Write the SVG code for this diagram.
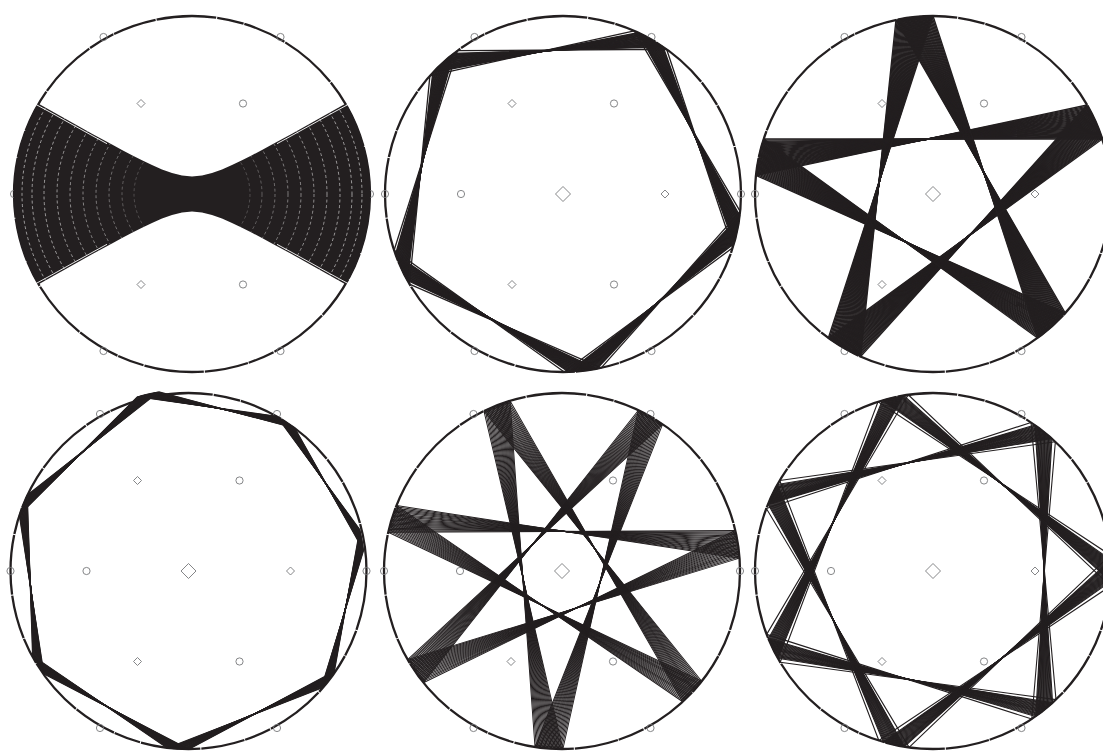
<svg xmlns="http://www.w3.org/2000/svg" xmlns:xlink="http://www.w3.org/1999/xlink" width="1103" height="752" viewBox="0 0 1103 752">
<style>
.ring{fill:none;stroke:#231f20;stroke-width:2.3;stroke-dasharray:60 1 27 0.8 44 1}
.mk{fill:none;stroke:#77787b;stroke-width:0.9}
.band{fill:none;stroke:#231f20;stroke-linejoin:round}
.b2{stroke-width:1.3}
.b3{stroke-width:1.4}
.b4{stroke-width:1.1}
.b5{stroke-width:1.0}
.b6{stroke-width:1.1}
.moire{fill:none;stroke:#fff;stroke-width:0.7;stroke-dasharray:3 2.6}
.edge{fill:none;stroke:#fff;stroke-width:0.9}
</style>
<defs>
<clipPath id="cc"><circle r="178.5"/></clipPath>
<path id="bowtie" d="M-180,-104 L-170,-99.7 L-160,-94.02 L-140,-82.7 L-120,-71.46 L-100,-60.33 L-80,-49.39 L-70,-44.04 L-60,-38.81 L-50,-33.76 L-40,-28.98 L-30,-24.62 L-20,-20.97 L-10,-18.43 L0,-17.5 L10,-18.43 L20,-20.97 L30,-24.62 L40,-28.98 L50,-33.76 L60,-38.81 L70,-44.04 L80,-49.39 L100,-60.33 L120,-71.46 L140,-82.7 L160,-94.02 L170,-99.7 L180,-104 L180,104 L170,99.7 L160,94.02 L140,82.7 L120,71.46 L100,60.33 L80,49.39 L70,44.04 L60,38.81 L50,33.76 L40,28.98 L30,24.62 L20,20.97 L10,18.43 L0,17.5 L-10,18.43 L-20,20.97 L-30,24.62 L-40,28.98 L-50,33.76 L-60,38.81 L-70,44.04 L-80,49.39 L-100,60.33 L-120,71.46 L-140,82.7 L-160,94.02 L-170,99.7 L-180,104 Z"/>
<clipPath id="btclip"><use xlink:href="#bowtie" href="#bowtie"/></clipPath>
<g id="marks" class="mk">
<circle cx="-88.5" cy="-157" r="3.6"/><circle cx="88.5" cy="-157" r="3.6"/>
<circle cx="-178" cy="0" r="3.6"/><circle cx="178" cy="0" r="3.6"/>
<circle cx="-88.5" cy="157" r="3.6"/><circle cx="88.5" cy="157" r="3.6"/>
<path d="M-51,-94.5 L-47,-90.5 L-51,-86.5 L-55,-90.5 Z"/>
<circle cx="51" cy="-90.5" r="3.6"/>
<circle cx="-102" cy="0" r="3.6"/>
<path d="M102,-4 L106,0 L102,4 L98,0 Z"/>
<path d="M-51,86.5 L-47,90.5 L-51,94.5 L-55,90.5 Z"/>
<circle cx="51" cy="90.5" r="3.6"/>
<path d="M0,-7.5 L7.5,0 L0,7.5 L-7.5,0 Z"/>
</g>
<polygon id="pent" points="0,-178 169.29,-55.01 104.63,144.01 -104.63,144.01 -169.29,-55.01"/>
<polygon id="pgram" points="0,-178 104.63,144.01 -169.29,-55.01 169.29,-55.01 -104.63,144.01"/>
<polygon id="hept" points="-40.5,-177 97.5,-149 173.5,-31 139.5,109 -10.5,178 -150.5,94 -165.5,-66"/>
<polygon id="h73" points="0,-178 77.23,160.37 -139.17,-110.98 173.54,39.61 -173.54,39.61 139.17,-110.98 -77.23,160.37"/>
<polygon id="h72" points="0,-178 173.54,39.61 -77.23,160.37 -139.17,-110.98 139.17,-110.98 77.23,160.37 -173.54,39.61"/>
</defs>
<rect width="1103" height="752" fill="#fff"/>

<g id="panel1" transform="translate(192,194)">
<circle class="ring" r="178"/>
<use href="#marks"/>
<use href="#bowtie" fill="#231f20" clip-path="url(#cc)"/>
<g clip-path="url(#btclip)">
<g clip-path="url(#cc)">
<circle class="moire" r="58" opacity="0.3"/>
<circle class="moire" r="70" opacity="0.4"/>
<circle class="moire" r="83" opacity="0.5"/>
<circle class="moire" r="96" opacity="0.6"/>
<circle class="moire" r="109" opacity="0.65"/>
<circle class="moire" r="122" opacity="0.7"/>
<circle class="moire" r="135" opacity="0.75"/>
<circle class="moire" r="148" opacity="0.8"/>
<circle class="moire" r="160" opacity="0.8"/>
<circle class="moire" r="170" opacity="0.8"/>
</g>
</g>
<polyline class="edge" points="-156,-89.5 -140,-80.8 -120,-69.6 -100,-58.5 -85,-50.3"/>
<polyline class="edge" points="156,-89.5 140,-80.8 120,-69.6 100,-58.5 85,-50.3"/>
<polyline class="edge" points="-156,89.5 -140,80.8 -120,69.6 -100,58.5 -85,50.3"/>
<polyline class="edge" points="156,89.5 140,80.8 120,69.6 100,58.5 85,50.3"/>
</g>

<g id="panel2" transform="translate(563,194)">
<circle class="ring" r="178"/>
<use href="#marks"/>
<g class="band b2">
<use href="#pent" transform="rotate(23.6)"/>
<use href="#pent" transform="rotate(25)"/><use href="#pent" transform="rotate(25.4)"/><use href="#pent" transform="rotate(25.8)"/><use href="#pent" transform="rotate(26.2)"/>
<use href="#pent" transform="rotate(26.6)"/><use href="#pent" transform="rotate(27)"/><use href="#pent" transform="rotate(27.4)"/><use href="#pent" transform="rotate(27.8)"/>
<use href="#pent" transform="rotate(28.2)"/><use href="#pent" transform="rotate(28.6)"/><use href="#pent" transform="rotate(29)"/><use href="#pent" transform="rotate(29.4)"/>
<use href="#pent" transform="rotate(29.8)"/><use href="#pent" transform="rotate(30.2)"/><use href="#pent" transform="rotate(30.6)"/><use href="#pent" transform="rotate(31)"/>
<use href="#pent" transform="rotate(31.4)"/><use href="#pent" transform="rotate(31.8)"/><use href="#pent" transform="rotate(32.2)"/><use href="#pent" transform="rotate(32.6)"/>
<use href="#pent" transform="rotate(33)"/><use href="#pent" transform="rotate(33.4)"/><use href="#pent" transform="rotate(33.8)"/><use href="#pent" transform="rotate(34.2)"/>
<use href="#pent" transform="rotate(35.6)"/>
</g>
</g>

<g id="panel3" transform="translate(933,194)">
<circle class="ring" r="178"/>
<use href="#marks"/>
<g class="band b3">
<use href="#pgram" transform="rotate(-12)"/><use href="#pgram" transform="rotate(-11.6)"/><use href="#pgram" transform="rotate(-11.2)"/><use href="#pgram" transform="rotate(-10.8)"/>
<use href="#pgram" transform="rotate(-10.4)"/><use href="#pgram" transform="rotate(-10)"/><use href="#pgram" transform="rotate(-9.6)"/><use href="#pgram" transform="rotate(-9.2)"/>
<use href="#pgram" transform="rotate(-8.8)"/><use href="#pgram" transform="rotate(-8.4)"/><use href="#pgram" transform="rotate(-8)"/><use href="#pgram" transform="rotate(-7.6)"/>
<use href="#pgram" transform="rotate(-7.2)"/><use href="#pgram" transform="rotate(-6.8)"/><use href="#pgram" transform="rotate(-6.4)"/><use href="#pgram" transform="rotate(-6)"/>
<use href="#pgram" transform="rotate(-5.6)"/><use href="#pgram" transform="rotate(-5.2)"/><use href="#pgram" transform="rotate(-4.8)"/><use href="#pgram" transform="rotate(-4.4)"/>
<use href="#pgram" transform="rotate(-4)"/><use href="#pgram" transform="rotate(-3.6)"/><use href="#pgram" transform="rotate(-3.2)"/><use href="#pgram" transform="rotate(-2.8)"/>
<use href="#pgram" transform="rotate(-2.4)"/><use href="#pgram" transform="rotate(-2)"/><use href="#pgram" transform="rotate(-1.6)"/><use href="#pgram" transform="rotate(-1.2)"/>
<use href="#pgram" transform="rotate(-0.8)"/><use href="#pgram" transform="rotate(-0.4)"/><use href="#pgram" transform="rotate(0)"/>
</g>
</g>

<g id="panel4" transform="translate(188.5,571)">
<circle class="ring" r="178"/>
<use href="#marks"/>
<g class="band b4">
<use href="#hept" transform="rotate(-3.5)"/><use href="#hept" transform="rotate(-3.15)"/><use href="#hept" transform="rotate(-2.8)"/><use href="#hept" transform="rotate(-2.45)"/>
<use href="#hept" transform="rotate(-2.1)"/><use href="#hept" transform="rotate(-1.75)"/><use href="#hept" transform="rotate(-1.4)"/><use href="#hept" transform="rotate(-1.05)"/>
<use href="#hept" transform="rotate(-0.7)"/><use href="#hept" transform="rotate(-0.35)"/><use href="#hept" transform="rotate(0)"/><use href="#hept" transform="rotate(0.35)"/>
<use href="#hept" transform="rotate(0.7)"/><use href="#hept" transform="rotate(1.05)"/><use href="#hept" transform="rotate(1.4)"/><use href="#hept" transform="rotate(1.75)"/>
<use href="#hept" transform="rotate(2.1)"/><use href="#hept" transform="rotate(2.45)"/><use href="#hept" transform="rotate(2.8)"/><use href="#hept" transform="rotate(3.15)"/>
<use href="#hept" transform="rotate(3.5)"/>
</g>
</g>

<g id="panel5" transform="translate(562,571)">
<circle class="ring" r="178"/>
<use href="#marks"/>
<g class="band b5">
<use href="#h73" transform="rotate(-26)"/><use href="#h73" transform="rotate(-25.55)"/><use href="#h73" transform="rotate(-25.1)"/><use href="#h73" transform="rotate(-24.65)"/>
<use href="#h73" transform="rotate(-24.2)"/><use href="#h73" transform="rotate(-23.75)"/><use href="#h73" transform="rotate(-23.3)"/><use href="#h73" transform="rotate(-22.85)"/>
<use href="#h73" transform="rotate(-22.4)"/><use href="#h73" transform="rotate(-21.95)"/><use href="#h73" transform="rotate(-21.5)"/><use href="#h73" transform="rotate(-21.05)"/>
<use href="#h73" transform="rotate(-20.6)"/><use href="#h73" transform="rotate(-20.15)"/><use href="#h73" transform="rotate(-19.7)"/><use href="#h73" transform="rotate(-19.25)"/>
<use href="#h73" transform="rotate(-18.8)"/><use href="#h73" transform="rotate(-18.35)"/><use href="#h73" transform="rotate(-17.9)"/><use href="#h73" transform="rotate(-17.45)"/>
<use href="#h73" transform="rotate(-17)"/>
</g>
</g>

<g id="panel6" transform="translate(933,571)">
<circle class="ring" r="178"/>
<use href="#marks"/>
<g class="band b6">
<use href="#h72" transform="rotate(-18)"/>
<use href="#h72" transform="rotate(-16.5)"/><use href="#h72" transform="rotate(-16.15)"/><use href="#h72" transform="rotate(-15.8)"/><use href="#h72" transform="rotate(-15.45)"/>
<use href="#h72" transform="rotate(-15.1)"/><use href="#h72" transform="rotate(-14.75)"/><use href="#h72" transform="rotate(-14.4)"/><use href="#h72" transform="rotate(-14.05)"/>
<use href="#h72" transform="rotate(-13.7)"/><use href="#h72" transform="rotate(-13.35)"/><use href="#h72" transform="rotate(-13)"/><use href="#h72" transform="rotate(-12.65)"/>
<use href="#h72" transform="rotate(-12.3)"/><use href="#h72" transform="rotate(-11.95)"/><use href="#h72" transform="rotate(-11.6)"/><use href="#h72" transform="rotate(-11.25)"/>
<use href="#h72" transform="rotate(-10.9)"/><use href="#h72" transform="rotate(-10.55)"/><use href="#h72" transform="rotate(-10.2)"/><use href="#h72" transform="rotate(-9.85)"/>
<use href="#h72" transform="rotate(-9.5)"/>
<use href="#h72" transform="rotate(-8)"/>
</g>
</g>
</svg>
